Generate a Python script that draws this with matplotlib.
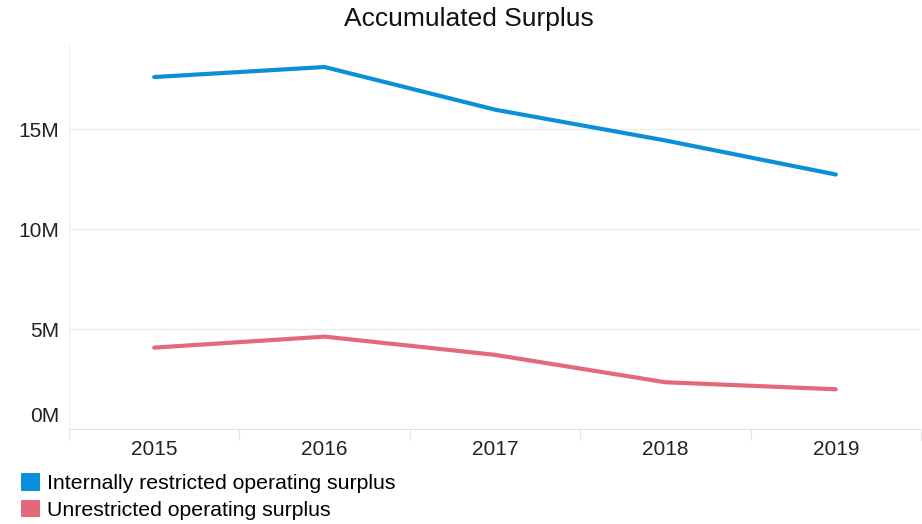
import matplotlib.pyplot as plt
from matplotlib.patches import Patch

plt.rcParams['font.family'] = ['Liberation Sans', 'DejaVu Sans']

years = ['2015', '2016', '2017', '2018', '2019']
internally_restricted = [17.6, 18.1, 15.97, 14.43, 12.73]
unrestricted = [4.08, 4.63, 3.72, 2.35, 2.0]
y_ticks = [0, 5, 10, 15]
series_names = ['Internally restricted operating surplus',
                'Unrestricted operating surplus']
colors = ['#0a8fdb', '#e3687a']

fig = plt.figure(figsize=(9.22, 5.24), dpi=100)
# axes box in pixels: left 69, right 921, bottom 429, top 45
ax = fig.add_axes([69 / 922, 1 - 429.3 / 524, 852 / 922, 384.3 / 524])

x = list(range(len(years)))
ax.plot(x, internally_restricted, color=colors[0], lw=3, solid_capstyle='round')
ax.plot(x, unrestricted, color=colors[1], lw=3, solid_capstyle='round')

ax.set_xlim(-0.5, len(years) - 0.5)
ax.set_ylim(0, 19.2)

ax.set_yticks(y_ticks)
ax.set_yticklabels(['' if v == 0 else f'{v}M' for v in y_ticks])
ax.annotate('0M', xy=(0, 0), xycoords=('axes fraction', 'data'),
            xytext=(-7, 9), textcoords='offset points',
            ha='right', va='center', fontsize=15, color='#222222')
ax.tick_params(axis='y', length=0, pad=7, labelsize=15, labelcolor='#222222')
ax.grid(axis='y', color='#ebebeb', lw=0.9)

ax.set_xticks(x)
ax.set_xticklabels(years)
ax.set_xticks([i - 0.5 for i in range(len(years) + 1)], minor=True)
ax.tick_params(axis='x', which='major', length=0, pad=7.5,
               labelsize=15, labelcolor='#222222')
ax.tick_params(axis='x', which='minor', length=8, width=0.8, color='#e6e6e6')

for side in ['top', 'right']:
    ax.spines[side].set_visible(False)
ax.spines['left'].set_color('#ededed')
ax.spines['left'].set_linewidth(0.8)
ax.spines['bottom'].set_color('#e2e2e2')
ax.spines['bottom'].set_linestyle((0, (2, 1)))
ax.spines['bottom'].set_linewidth(0.8)
ax.set_axisbelow(True)

fig.text(469 / 922, 1 - 19 / 524, 'Accumulated Surplus', ha='center', va='center',
         fontsize=19, color='#111111')

handles = [Patch(facecolor=c, edgecolor='none') for c in colors]
fig.legend(handles, series_names, loc='upper left',
           bbox_to_anchor=(17 / 922, 1 - 469 / 524), frameon=False,
           fontsize=15.3, handlelength=0.9, handleheight=0.9,
           handletextpad=0.33, labelspacing=0.29, borderpad=0.2,
           borderaxespad=0)

fig.savefig('out.png', dpi=100)
